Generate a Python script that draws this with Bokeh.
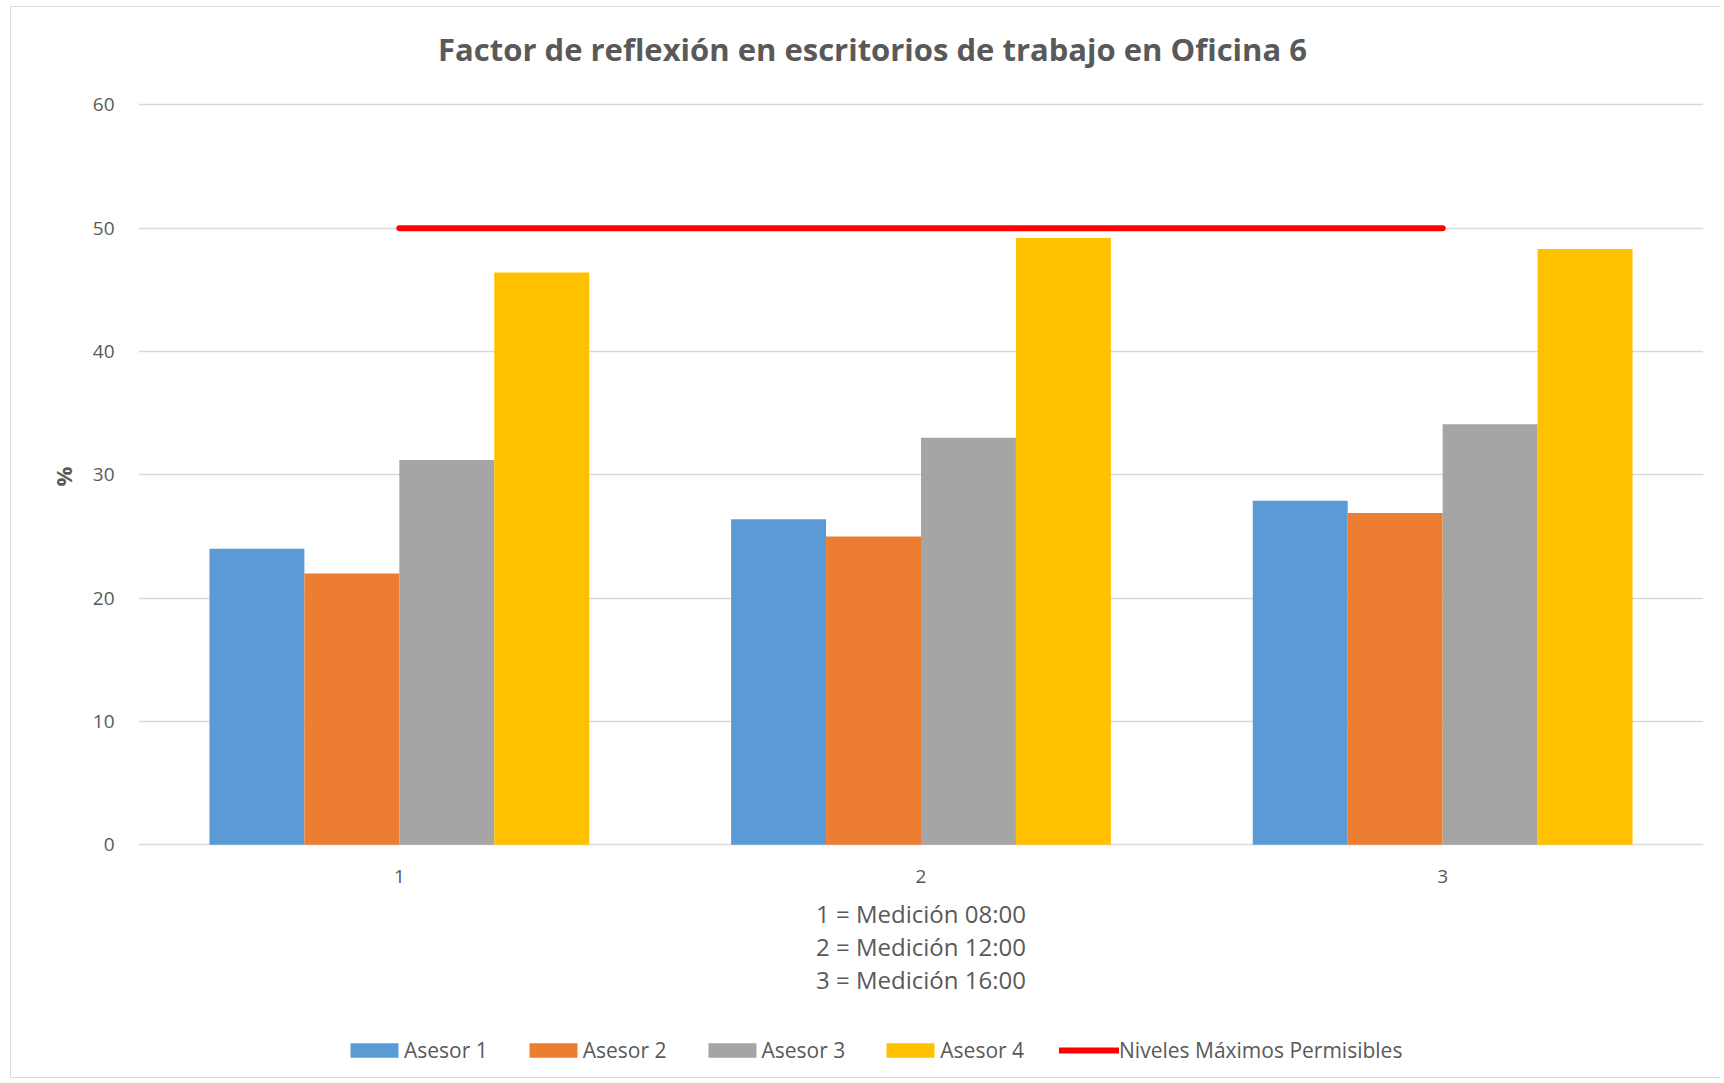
from bokeh.plotting import figure
from bokeh.models import (FactorRange, ColumnDataSource, Legend, LegendItem,
                          FixedTicker, Title, Label)
from bokeh.core.properties import value
from bokeh.transform import dodge
from bokeh.embed import file_html
from bokeh.resources import INLINE

# ---- data ----
categories = ["1", "2", "3"]
series_names = ["Asesor 1", "Asesor 2", "Asesor 3", "Asesor 4"]
asesor1 = [24.0, 26.4, 27.9]
asesor2 = [22.0, 25.0, 26.9]
asesor3 = [31.2, 33.0, 34.1]
asesor4 = [46.4, 49.2, 48.3]
limit_x = ["1", "3"]
limit_y = [50, 50]
limit_name = "Niveles Máximos Permisibles"
y_ticks = [0, 10, 20, 30, 40, 50, 60]
title_text = "Factor de reflexión en escritorios de trabajo en Oficina 6"
desc_lines = ["1 = Medición 08:00", "2 = Medición 12:00", "3 = Medición 16:00"]

colors = ["#5B9BD5", "#ED7D31", "#A5A5A5", "#FFC000"]
FONT = "Open Sans"
TXT = "#595959"

# ---- layout geometry (pixels) ----
W, H = 1710, 1072
ML, MR = 127, 18
zero_px = 837.3           # canvas y of value 0
top_px = 97.3             # canvas y of value 60
px_per_unit = (zero_px - top_px) / 60.0
y_start = -(H - zero_px) / px_per_unit
y_end = 60 + top_px / px_per_unit
frame_w = W - ML - MR

src = ColumnDataSource(dict(cat=categories, a1=asesor1, a2=asesor2, a3=asesor3, a4=asesor4))

p = figure(width=W, height=H, x_range=FactorRange(*categories, range_padding=0),
           y_range=(y_start, y_end), output_backend="svg", toolbar_location=None, title=None,
           x_axis_location=None,
           min_border_left=ML, min_border_right=MR, min_border_top=0, min_border_bottom=0)
p.styles = {"margin-left": "10px", "margin-top": "6px",
            "border-left": "1px solid #d9d9d9", "border-top": "1px solid #d9d9d9",
            "border-bottom": "1px solid #d9d9d9"}
p.outline_line_color = None
p.background_fill_color = "white"

bw = 0.182
offsets = [-1.5 * bw, -0.5 * bw, 0.5 * bw, 1.5 * bw]
cols = ["a1", "a2", "a3", "a4"]
bar_renderers = []
for c, off, col in zip(cols, offsets, colors):
    r = p.vbar(x=dodge("cat", off, range=p.x_range), top=c, width=bw, source=src,
               fill_color=col, line_color=None)
    bar_renderers.append(r)

line_r = p.line(x=limit_x, y=limit_y, line_color="#FF0000", line_width=6, line_cap="round")

# y axis
p.yaxis.ticker = FixedTicker(ticks=y_ticks)
p.yaxis.axis_line_color = None
p.yaxis.major_tick_line_color = None
p.yaxis.minor_tick_line_color = None
p.yaxis.major_label_text_font = FONT
p.yaxis.major_label_text_font_size = "19px"
p.yaxis.major_label_text_color = TXT
p.yaxis.major_label_standoff = 18

p.xgrid.grid_line_color = None
p.ygrid.grid_line_color = "#d9d9d9"
p.ygrid.grid_line_width = 1.5

# y axis title "%"
ylab = Title(text="%", align="left", offset=H - 469 - 10, standoff=23,
             text_font=FONT, text_font_style="bold", text_font_size="22px",
             text_color=TXT)
p.add_layout(ylab, "left")

# x category labels (below the zero line)
p.text(x=categories, y=[-31.7 / px_per_unit] * len(categories), text=categories,
       text_align="center", text_baseline="middle", text_font=value(FONT),
       text_font_size="19px", text_color=TXT)

# description lines
for i, t in enumerate(desc_lines):
    p.add_layout(Label(x=frame_w / 2, y=(H - 906) - 33 * i, x_units="screen", y_units="screen",
                       text=t, text_align="center", text_baseline="middle",
                       text_font=FONT, text_font_size="24px", text_color=TXT))

# chart title
p.add_layout(Label(x=734, y=H - 41.5, x_units="screen", y_units="screen",
                   text=title_text, text_align="center", text_baseline="middle",
                   text_font=FONT, text_font_style="bold", text_font_size="31px",
                   text_color=TXT))

items = [LegendItem(label=n, renderers=[r]) for n, r in zip(series_names, bar_renderers)]
items.append(LegendItem(label=limit_name, renderers=[line_r]))
legend = Legend(items=items, orientation="horizontal", location=(206, 15),
                glyph_width=60, glyph_height=18, label_standoff=0, spacing=35,
                padding=0, margin=0, border_line_color=None, background_fill_alpha=0,
                label_text_font=FONT, label_text_font_size="21px", label_text_color=TXT)
p.add_layout(legend, "center")

open("out.html", "w").write(file_html(p, INLINE))
